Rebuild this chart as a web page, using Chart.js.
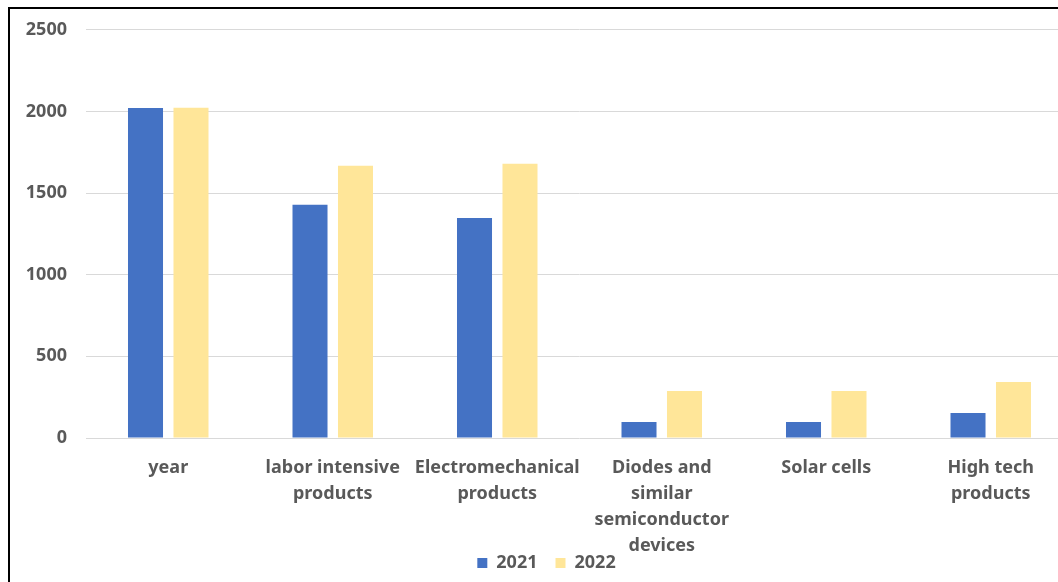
<!DOCTYPE html>
<html>
<head>
<meta charset="utf-8">
<script src="https://cdn.jsdelivr.net/npm/chart.js@4"></script>
<style>
  html, body { margin: 0; padding: 0; background: #fff; overflow: hidden; }
  #marco {
    position: absolute; left: 8px; top: 7px;
    border-left: 2px solid #000; border-top: 2px solid #000;
    width: 1063px; height: 573px;
  }
  /* el lienzo sube 9px: el padding de los ticks del eje y empuja el área hacia abajo */
  #grafico { position: absolute; left: 0; top: -9px; }
</style>
</head>
<body>
<div id="marco"><canvas id="grafico" width="1063" height="582"></canvas></div>
<script>
// Categorías y valores
const categorias = [
    'year',
    ['labor intensive', 'products'],
    ['Electromechanical', 'products'],
    ['Diodes and', 'similar', 'semiconductor', 'devices'],
    'Solar cells',
    ['High tech', 'products']
];
const valores2021 = [2021, 1428, 1348, 98, 98, 153];
const valores2022 = [2022, 1667, 1679, 288, 288, 343];
const ticksY = [0, 500, 1000, 1500, 2000, 2500];

const gris = '#595959';
const fuente = { family: '"Noto Sans", sans-serif', size: 18, weight: 'bold' };

const ctx = document.getElementById('grafico').getContext('2d');

// las etiquetas de "Diodes..." bajan hasta la leyenda, así que no se recortan
const sinRecorte = {
    id: 'sinRecorte',
    afterLayout: chart => { chart.scales.x.bottom = chart.height; }
};

new Chart(ctx, {
    type: 'bar',
    data: {
        labels: categorias,
        datasets: [{
            label: '2021',
            data: valores2021,
            backgroundColor: '#4472C4',
            categoryPercentage: 0.553,
            barPercentage: 0.77
        }, {
            label: '2022',
            data: valores2022,
            backgroundColor: '#FFE699',
            categoryPercentage: 0.553,
            barPercentage: 0.77
        }]
    },
    options: {
        responsive: false,
        animation: false,
        layout: { padding: { left: 10, right: 0, top: 0, bottom: 0 } },
        plugins: {
            legend: {
                position: 'bottom',
                labels: { boxWidth: 10, boxHeight: 10, color: gris, font: fuente, padding: 18 }
            },
            tooltip: { enabled: false }
        },
        scales: {
            x: {
                grid: { display: false },
                border: { display: false },
                ticks: {
                    color: gris,
                    font: { ...fuente, lineHeight: 1.45 },
                    padding: 9,
                    maxRotation: 0,
                    minRotation: 0,
                    autoSkip: false
                },
                afterFit: s => { s.height = 98; }
            },
            y: {
                min: 0,
                max: 2500,
                afterBuildTicks: s => { s.ticks = ticksY.map(v => ({ value: v })); },
                grid: { color: '#D9D9D9', drawTicks: false },
                border: { display: false },
                ticks: { color: gris, font: fuente, padding: 19, callback: v => String(v) },
                afterFit: s => { s.width = 66; }
            }
        }
    },
    plugins: [sinRecorte]
});
</script>
</body>
</html>
